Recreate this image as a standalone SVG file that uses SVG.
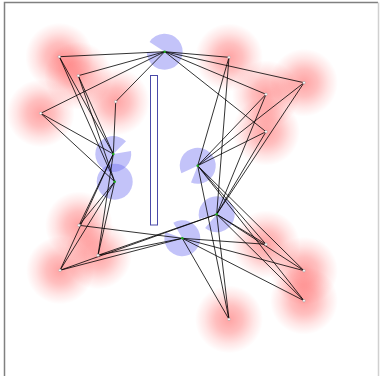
<svg xmlns="http://www.w3.org/2000/svg" width="380" height="376" viewBox="0 0 380 376">
<defs>
<radialGradient id="rg">
<stop offset="0" stop-color="#ff0000" stop-opacity="0.36"/>
<stop offset="0.4" stop-color="#ff0000" stop-opacity="0.25"/>
<stop offset="0.72" stop-color="#ff0000" stop-opacity="0.1"/>
<stop offset="1" stop-color="#ff0000" stop-opacity="0"/>
</radialGradient>
</defs>
<style>
.blob{fill:url(#rg)}
.pac{fill:#6a6af0;fill-opacity:0.4}
.rdot{fill:#fff;stroke:#999;stroke-width:0.5}
.bdot{fill:#22aa22}
#edges line{stroke:#000;stroke-width:0.8}
</style>
<rect x="0" y="0" width="380" height="376" fill="#fff"/>
<path d="M4.5 376 V2.5 H378" fill="none" stroke="#808080" stroke-width="1.5"/>
<path d="M378.5 2.5 V376" fill="none" stroke="#d0d0d0" stroke-width="1.5"/>
<g id="blobs">
<circle class="blob" cx="59.3" cy="56.7" r="34"/>
<circle class="blob" cx="78.3" cy="75.7" r="34"/>
<circle class="blob" cx="40.7" cy="113.3" r="34"/>
<circle class="blob" cx="115.7" cy="101.7" r="34"/>
<circle class="blob" cx="229" cy="57.3" r="34"/>
<circle class="blob" cx="304" cy="82.7" r="34"/>
<circle class="blob" cx="266" cy="94.3" r="34"/>
<circle class="blob" cx="266" cy="131.7" r="34"/>
<circle class="blob" cx="79" cy="225.3" r="34"/>
<circle class="blob" cx="98" cy="255.3" r="34"/>
<circle class="blob" cx="60" cy="270.3" r="34"/>
<circle class="blob" cx="266" cy="244.3" r="34"/>
<circle class="blob" cx="304" cy="270.7" r="34"/>
<circle class="blob" cx="304" cy="300.7" r="34"/>
<circle class="blob" cx="229" cy="319.3" r="34"/>
</g>
<g id="P"><path class="pac" d="M164.7 51.7 L149.6 41.9 A18 18 0 1 1 146.7 52.3 Z"/></g>
<g id="Q"><path class="pac" d="M113.3 154 L131 150.9 A18 18 0 1 1 126 141.3 Z"/></g>
<g id="R"><circle class="pac" cx="114.7" cy="181.7" r="18"/></g>
<g id="S"><path class="pac" d="M197.7 165.7 L181.4 173.3 A18 18 0 1 1 191 182.4 Z"/></g>
<g id="T"><path class="pac" d="M216.7 214.3 L199.3 219 A18 18 0 1 1 205.1 228.1 Z"/></g>
<g id="U"><path class="pac" d="M182.3 238.3 L173.3 222.7 A18 18 0 1 1 165.4 232.1 Z"/></g>
<g id="wall"><rect x="150.5" y="75.5" width="7" height="149.5" fill="none" stroke="#4a4aa8" stroke-width="1"/></g>
<g id="edges">
<line x1="164.7" y1="51.7" x2="59.3" y2="56.7"/>
<line x1="164.7" y1="51.7" x2="78.3" y2="75.7"/>
<line x1="164.7" y1="51.7" x2="40.7" y2="113.3"/>
<line x1="164.7" y1="51.7" x2="115.7" y2="101.7"/>
<line x1="164.7" y1="51.7" x2="229" y2="57.3"/>
<line x1="164.7" y1="51.7" x2="304" y2="82.7"/>
<line x1="164.7" y1="51.7" x2="266" y2="94.3"/>
<line x1="164.7" y1="51.7" x2="266" y2="131.7"/>
<line x1="113.3" y1="154" x2="59.3" y2="56.7"/>
<line x1="113.3" y1="154" x2="78.3" y2="75.7"/>
<line x1="113.3" y1="154" x2="40.7" y2="113.3"/>
<line x1="113.3" y1="154" x2="115.7" y2="101.7"/>
<line x1="113.3" y1="154" x2="79" y2="225.3"/>
<line x1="113.3" y1="154" x2="98" y2="255.3"/>
<line x1="113.3" y1="154" x2="60" y2="270.3"/>
<line x1="114.7" y1="181.7" x2="59.3" y2="56.7"/>
<line x1="114.7" y1="181.7" x2="78.3" y2="75.7"/>
<line x1="114.7" y1="181.7" x2="40.7" y2="113.3"/>
<line x1="114.7" y1="181.7" x2="79" y2="225.3"/>
<line x1="114.7" y1="181.7" x2="98" y2="255.3"/>
<line x1="114.7" y1="181.7" x2="60" y2="270.3"/>
<line x1="197.7" y1="165.7" x2="229" y2="57.3"/>
<line x1="197.7" y1="165.7" x2="304" y2="82.7"/>
<line x1="197.7" y1="165.7" x2="266" y2="94.3"/>
<line x1="197.7" y1="165.7" x2="266" y2="131.7"/>
<line x1="197.7" y1="165.7" x2="266" y2="244.3"/>
<line x1="197.7" y1="165.7" x2="304" y2="270.7"/>
<line x1="197.7" y1="165.7" x2="304" y2="300.7"/>
<line x1="197.7" y1="165.7" x2="229" y2="319.3"/>
<line x1="216.7" y1="214.3" x2="229" y2="57.3"/>
<line x1="216.7" y1="214.3" x2="304" y2="82.7"/>
<line x1="216.7" y1="214.3" x2="266" y2="94.3"/>
<line x1="216.7" y1="214.3" x2="266" y2="131.7"/>
<line x1="216.7" y1="214.3" x2="98" y2="255.3"/>
<line x1="216.7" y1="214.3" x2="60" y2="270.3"/>
<line x1="216.7" y1="214.3" x2="266" y2="244.3"/>
<line x1="216.7" y1="214.3" x2="304" y2="270.7"/>
<line x1="216.7" y1="214.3" x2="304" y2="300.7"/>
<line x1="216.7" y1="214.3" x2="229" y2="319.3"/>
<line x1="182.3" y1="238.3" x2="79" y2="225.3"/>
<line x1="182.3" y1="238.3" x2="98" y2="255.3"/>
<line x1="182.3" y1="238.3" x2="60" y2="270.3"/>
<line x1="182.3" y1="238.3" x2="266" y2="244.3"/>
<line x1="182.3" y1="238.3" x2="304" y2="270.7"/>
<line x1="182.3" y1="238.3" x2="304" y2="300.7"/>
<line x1="182.3" y1="238.3" x2="229" y2="319.3"/>
</g>
<g id="dots">
<circle class="bdot" cx="164.7" cy="51.7" r="1.3"/>
<circle class="bdot" cx="113.3" cy="154" r="1.3"/>
<circle class="bdot" cx="114.7" cy="181.7" r="1.3"/>
<circle class="bdot" cx="197.7" cy="165.7" r="1.3"/>
<circle class="bdot" cx="216.7" cy="214.3" r="1.3"/>
<circle class="bdot" cx="182.3" cy="238.3" r="1.3"/>
<circle class="rdot" cx="59.3" cy="56.7" r="1.3"/>
<circle class="rdot" cx="78.3" cy="75.7" r="1.3"/>
<circle class="rdot" cx="40.7" cy="113.3" r="1.3"/>
<circle class="rdot" cx="115.7" cy="101.7" r="1.3"/>
<circle class="rdot" cx="229" cy="57.3" r="1.3"/>
<circle class="rdot" cx="304" cy="82.7" r="1.3"/>
<circle class="rdot" cx="266" cy="94.3" r="1.3"/>
<circle class="rdot" cx="266" cy="131.7" r="1.3"/>
<circle class="rdot" cx="79" cy="225.3" r="1.3"/>
<circle class="rdot" cx="98" cy="255.3" r="1.3"/>
<circle class="rdot" cx="60" cy="270.3" r="1.3"/>
<circle class="rdot" cx="266" cy="244.3" r="1.3"/>
<circle class="rdot" cx="304" cy="270.7" r="1.3"/>
<circle class="rdot" cx="304" cy="300.7" r="1.3"/>
<circle class="rdot" cx="229" cy="319.3" r="1.3"/>
</g>
</svg>
